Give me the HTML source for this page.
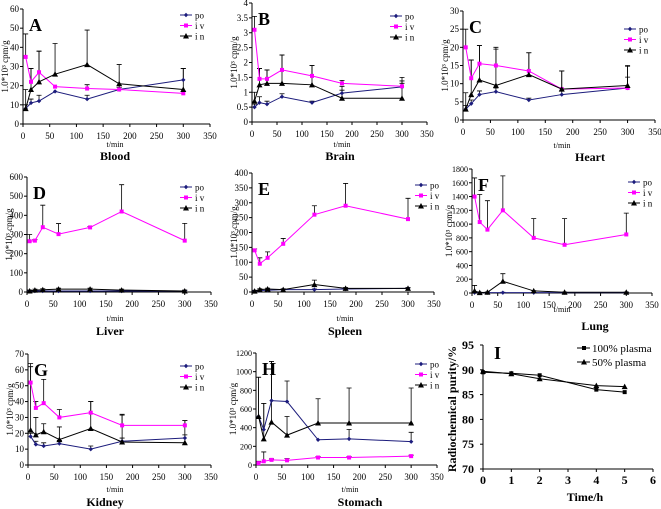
<!DOCTYPE html>
<html><head><meta charset="utf-8"><style>
body{margin:0;background:#fff;}
svg{display:block;}
svg text{font-family:"Liberation Serif","Times New Roman",serif;}
</style></head><body>
<svg id="fig" width="661" height="509" viewBox="0 0 661 509" font-family="Liberation Serif, serif"></svg>
<script>
// ---- data ----
const times = [5,15,30,60,120,180,300];
const seriesNames = ["po","iv","in"];
const A_po=[8,11,12,17,13,18,23], A_iv=[35,22,27,19.5,18.5,18,16], A_in=[8,18,22,26,31,21,18];
const A_po_err=[2,2,3,0,2,1,6], A_iv_err=[12,7,11,0,2,2,0], A_in_err=[10,11,16,16,18,10,11];
const B_po=[0.5,0.65,0.6,0.85,0.65,0.97,1.18], B_iv=[3.1,1.45,1.45,1.75,1.55,1.3,1.2], B_in=[0.7,1.25,1.3,1.3,1.25,0.8,0.8];
const B_po_err=[0.1,0.2,0.1,0.1,0.05,0.1,0.2], B_iv_err=[0.45,0.35,0.3,0.5,0.35,0.1,0.3], B_in_err=[0.3,0.55,0.45,0.95,0.65,0.4,0.5];
const C_po=[3,4.5,7,7.8,5.5,7,8.8], C_iv=[20,11.5,15.5,15,13.5,8.5,8.8], C_in=[3,7,11,9.5,12.5,8.5,9.5];
const C_po_err=[1,1,1,1,0.5,1,3], C_iv_err=[5,5,5,5,5,5,6], C_in_err=[4.5,9.5,9.5,10,6,5,5.5];
const D_po=[5,5,5,5,5,5,5], D_iv=[265,268,338,302,337,420,268], D_in=[5,10,12,15,15,10,5];
const D_po_err=[3,3,3,3,3,3,3], D_iv_err=[35,5,115,55,5,140,90], D_in_err=[5,5,5,5,5,5,5];
const E_po=[3,5,6,8,8,10,12], E_iv=[140,95,115,162,260,290,245], E_in=[3,8,10,8,25,12,12];
const E_po_err=[2,2,2,2,2,2,2], E_iv_err=[5,20,20,18,30,75,70], E_in_err=[3,3,3,3,15,3,3];
const F_po=[5,5,5,5,5,5,5], F_iv=[1400,1030,920,1200,800,700,850], F_in=[30,5,10,170,30,10,10];
const F_po_err=[5,5,5,5,5,5,5], F_iv_err=[270,400,420,500,280,380,310], F_in_err=[80,5,5,110,5,5,5];
const G_po=[18,13,12,13.5,10,15,17], G_iv=[52,36,39,30,33,25,25], G_in=[22,19,21,16,23,14.5,14];
const G_po_err=[2,2,2,2,2,2,2], G_iv_err=[12,4,15,5,7,7,3], G_in_err=[40,11,5,8,17,17,14];
const H_po=[520,380,690,680,270,280,250], H_iv=[20,40,55,50,80,80,95], H_in=[520,280,460,320,450,450,450];
const H_po_err=[420,280,420,220,0,100,100], H_iv_err=[20,100,10,20,10,10,10], H_in_err=[420,380,650,200,260,375,375];
const I_time=[0,1,2,4,5];
const I_100=[89.5,89.3,88.9,86,85.5];
const I_50=[89.7,89.2,88.2,86.8,86.6];
const I_ylabels=[70,75,80,85,90,95];
const I_xlabels=[0,1,2,3,4,5,6];

const NS="http://www.w3.org/2000/svg";
const svg=document.getElementById('fig');
const FF='"Liberation Serif", serif';
function el(tag,attrs,parent,txt){const e=document.createElementNS(NS,tag);for(const k in attrs)e.setAttribute(k,attrs[k]);if(tag==='text')e.setAttribute('font-family',FF);if(txt!==undefined)e.textContent=txt;(parent||svg).appendChild(e);return e;}
const colors={po:"#1c1c7c",iv:"#ff00ff",in:"#000000"};

function marker(g,type,x,y,c){
  if(type==="po"){const m=el('path',{d:`M${x-2.2},${y}L${x},${y-2.2}L${x+2.2},${y}L${x},${y+2.2}Z`,fill:c},g);}
  else if(type==="iv"){const m=el('rect',{x:x-2,y:y-2,width:4,height:4,fill:c},g);}
  else{const m=el('path',{d:`M${x-3},${y+2.5}L${x+3},${y+2.5}L${x},${y-3}Z`,fill:c},g);}
}

const panels=[
 {id:"A",name:"Blood",x0:23,x1:210,y0:124,y1:9,ymax:60,ystep:10,data:[A_po,A_iv,A_in],err:[A_po_err,A_iv_err,A_in_err],leg:[180,15],tx:115,ty:147,nx:115,ny:160},
 {id:"B",name:"Brain",x0:252,x1:427,y0:122,y1:3,ymax:4,ystep:0.5,data:[B_po,B_iv,B_in],err:[B_po_err,B_iv_err,B_in_err],leg:[390,16],tx:342,ty:147,nx:340,ny:160},
 {id:"C",name:"Heart",x0:463,x1:655,y0:120,y1:11,ymax:30,ystep:5,data:[C_po,C_iv,C_in],err:[C_po_err,C_iv_err,C_in_err],leg:[624,29],tx:562,ty:148,nx:590,ny:161},
 {id:"D",name:"Liver",x0:27,x1:211,y0:292,y1:177,ymax:600,ystep:100,data:[D_po,D_iv,D_in],err:[D_po_err,D_iv_err,D_in_err],leg:[180,187],tx:115,ty:321,nx:110,ny:335},
 {id:"E",name:"Spleen",x0:252,x1:434,y0:292,y1:173,ymax:400,ystep:50,data:[E_po,E_iv,E_in],err:[E_po_err,E_iv_err,E_in_err],leg:[415,185],tx:345,ty:321,nx:345,ny:335},
 {id:"F",name:"Lung",x0:472,x1:652,y0:293,y1:169,ymax:1800,ystep:200,data:[F_po,F_iv,F_in],err:[F_po_err,F_iv_err,F_in_err],leg:[628,182],tx:562,ty:312,nx:595,ny:330},
 {id:"G",name:"Kidney",x0:28,x1:211,y0:465,y1:354,ymax:70,ystep:10,data:[G_po,G_iv,G_in],err:[G_po_err,G_iv_err,G_in_err],leg:[180,366],tx:115,ty:492,nx:105,ny:506},
 {id:"H",name:"Stomach",x0:256,x1:437,y0:465,y1:353,ymax:1200,ystep:200,data:[H_po,H_iv,H_in],err:[H_po_err,H_iv_err,H_in_err],leg:[415,364],tx:350,ty:492,nx:360,ny:506}
];

panels.forEach(p=>{
  const g=el('g',{},svg);
  
  
  const sx=v=>p.x0+(p.x1-p.x0)*v/350;
  const sy=v=>p.y0-(p.y0-p.y1)*v/p.ymax;
  const ax=el('path',{d:`M${p.x0},${p.y1}V${p.y0}H${p.x1}`,stroke:"#000",fill:"none","stroke-width":1},g);
  
  const big=p.ymax>=1000;
  for(let v=0;v<=p.ymax+1e-9;v+=p.ystep){
    const y=sy(v);
    el('line',{x1:p.x0-3,x2:p.x0,y1:y,y2:y,stroke:"#000"},g);
    const t=el('text',{x:p.x0-4,y:y+3,"font-size":big?8:9,"text-anchor":"end"},g,String(+v.toFixed(1)));
    
  }
  for(let v=0;v<=350;v+=50){
    const x=sx(v);
    el('line',{x1:x,x2:x,y1:p.y0,y2:p.y0+3,stroke:"#000"},g);
    const t=el('text',{x:x,y:p.y0+15,"font-size":9,"text-anchor":"middle"},g,String(v));
    
  }
  const yt=el('text',{x:0,y:0,"font-size":9,"text-anchor":"middle",transform:`translate(${p.x0-(big?20:15)},${(p.y0+p.y1)/2}) rotate(-90)`},g,"1.0*10³ cpm/g");
  
  const xt=el('text',{x:p.tx,y:p.ty,"font-size":8,"text-anchor":"middle"},g,"t/min");
  
  const nt=el('text',{x:p.nx,y:p.ny,"font-size":12,"font-weight":"bold","text-anchor":"middle"},g,p.name);
  
  const lt=el('text',{x:p.x0+6,y:p.y1+22,"font-size":18,"font-weight":"bold"},g,p.id);
  
  p.data.forEach((arr,si)=>{
    arr.forEach((v,i)=>{
      const e=p.err[si][i]; if(e<=0) return;
      const x=sx(times[i]),ya=sy(v),yb=sy(v+e);
      const b=el('path',{d:`M${x},${ya}V${yb}M${x-2.5},${yb}H${x+2.5}`,stroke:"#000","stroke-width":0.8,fill:"none"},g);
      
    });
  });
  p.data.forEach((arr,si)=>{
    const nm=seriesNames[si],c=colors[nm];
    const pl=el('polyline',{points:arr.map((v,i)=>sx(times[i])+","+sy(v)).join(" "),fill:"none",stroke:c,"stroke-width":1},g);
    
    arr.forEach((v,i)=>marker(g,nm,sx(times[i]),sy(v),c));
  });
  seriesNames.forEach((nm,i)=>{
    const lx=p.leg[0],ly=p.leg[1]+i*10.5;
    const lg=el('g',{},g);
    
    el('line',{x1:lx,x2:lx+12,y1:ly,y2:ly,stroke:colors[nm]},lg);
    marker(lg,nm,lx+6,ly,colors[nm]);
    el('text',{x:lx+15,y:ly+3.5,"font-size":9},lg,nm==="iv"?"i v":nm==="in"?"i n":"po");
  });
});

(function(){
  const g=el('g',{},svg);
  
  
  const x0=483,x1=653,y0=469,y1=345;
  const sx=v=>x0+(x1-x0)*v/6, sy=v=>y0-(y0-y1)*(v-70)/25;
  const ax=el('path',{d:`M${x0},${y1}V${y0}H${x1}`,stroke:"#000",fill:"none"},g);
  
  I_ylabels.forEach(v=>{const y=sy(v);el('line',{x1:x0-3,x2:x0,y1:y,y2:y,stroke:"#000"},g);
    const t=el('text',{x:x0-9,y:y+4,"font-size":12,"font-weight":"bold","text-anchor":"end"},g,String(v));
    });
  I_xlabels.forEach(v=>{const x=sx(v);el('line',{x1:x,x2:x,y1:y0,y2:y0+3,stroke:"#000"},g);
    const t=el('text',{x:x,y:y0+15,"font-size":12,"font-weight":"bold","text-anchor":"middle"},g,String(v));
    });
  const yt=el('text',{x:0,y:0,"font-size":12,"font-weight":"bold","text-anchor":"middle",transform:`translate(456,409) rotate(-90)`},g,"Radiochemical purity/%");
  
  const xt=el('text',{x:585,y:501,"font-size":12,"font-weight":"bold","text-anchor":"middle"},g,"Time/h");
  
  const lt=el('text',{x:494,y:359,"font-size":18,"font-weight":"bold"},g,"I");
  
  [[I_100,"sq","100% plasma"],[I_50,"tri","50%  plasma"]].forEach((s,si)=>{
    const pl=el('polyline',{points:s[0].map((v,i)=>sx(I_time[i])+","+sy(v)).join(" "),fill:"none",stroke:"#000"},g);
    
    s[0].forEach((v,i)=>marker(g,si?"in":"iv",sx(I_time[i]),sy(v),"#000"));
    const ly=348+si*14;
    const lg=el('g',{},g);
    
    el('line',{x1:577,x2:590,y1:ly,y2:ly,stroke:"#000"},lg);
    marker(lg,si?"in":"iv",584,ly,"#000");
    el('text',{x:592,y:ly+4,"font-size":11},lg,s[2]);
  });
})();
</script>
</body></html>
